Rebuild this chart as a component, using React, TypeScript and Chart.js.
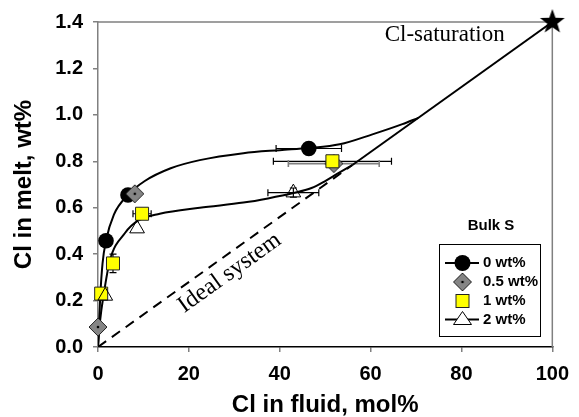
import React, { useEffect, useRef } from 'react';
import { Chart, registerables } from 'chart.js';

Chart.register(...registerables);

const SANS = '"Liberation Sans", Arial, Helvetica, sans-serif';
const SERIF = '"Liberation Serif", "Times New Roman", serif';

// Axis ranges and tick steps
const xRange = [0, 100];
const yRange = [0, 1.4];
const xStep = 20;
const yStep = 0.2;

// Fitted trend through the S-free runs
const fitS0X = [0, 0.5, 1.0, 1.76, 3.5, 6.6, 10.3, 16, 22.4, 32, 40, 46.4, 53.2, 60.4, 67, 70.5];
const fitS0Y = [0, 0.22, 0.36, 0.458, 0.57, 0.655, 0.715, 0.77, 0.805, 0.835, 0.848, 0.857, 0.873, 0.916, 0.96, 0.987];

// Fitted trend through the S-bearing runs
const fitSX = [0, 0.5, 1.2, 2.6, 5.9, 8.8, 13.6, 22.4, 32, 37.4, 43, 47, 50, 53, 56];
const fitSY = [0, 0.12, 0.22, 0.372, 0.49, 0.544, 0.574, 0.6, 0.622, 0.64, 0.663, 0.685, 0.715, 0.75, 0.784];

// Ideal-system line from the origin to Cl saturation (dashed part, then solid)
const idealX = [0, 56, 100];
const idealY = [0, 0.784, 1.4];

// Runs with 0 wt% bulk S
const s0X = [1.76, 6.6, 46.4];
const s0Y = [0.458, 0.655, 0.855];
const s0ErrX = [0, 0, 7.2];
const s0ErrY = [0, 0, 0];

// Runs with 0.5 wt% bulk S
const s05X = [0, 8.1, 51.9];
const s05Y = [0.086, 0.66, 0.79];
const s05ErrX = [0, 0, 10];
const s05ErrY = [0, 0, 0];

// Runs with 1 wt% bulk S
const s1X = [0.7, 3.3, 9.7, 51.6];
const s1Y = [0.23, 0.36, 0.574, 0.8];
const s1ErrX = [0, 0, 2.0, 13];
const s1ErrY = [0, 0.04, 0.015, 0.02];

// Runs with 2 wt% bulk S
const s2X = [1.6, 8.6, 43];
const s2Y = [0.22, 0.51, 0.665];
const s2ErrX = [0, 0, 5.6];
const s2ErrY = [0, 0, 0.02];

// Cl saturation point
const saturationX = [100];
const saturationY = [1.4];

const legendTitle = 'Bulk S';
const seriesLabels = ['0 wt%', '0.5 wt%', '1 wt%', '2 wt%'];
const xTitle = 'Cl in fluid, mol%';
const yTitle = 'Cl in melt, wt%';
const saturationText = 'Cl-saturation';
const idealText = 'Ideal system';

const pts = (xs: number[], ys: number[]) => xs.map((x, i) => ({ x, y: ys[i] }));

function makeDiamond(r: number): HTMLCanvasElement {
  const c = document.createElement('canvas');
  const s = Math.ceil(2 * r + 2);
  c.width = s;
  c.height = s;
  const g = c.getContext('2d')!;
  g.translate(s / 2, s / 2);
  g.beginPath();
  g.moveTo(0, -r);
  g.lineTo(r, 0);
  g.lineTo(0, r);
  g.lineTo(-r, 0);
  g.closePath();
  g.fillStyle = '#858585';
  g.fill();
  g.strokeStyle = '#222';
  g.lineWidth = 1;
  g.stroke();
  g.beginPath();
  g.arc(0, 0, 1.3, 0, Math.PI * 2);
  g.fillStyle = '#000';
  g.fill();
  return c;
}

function makeStar(outer: number, inner: number): HTMLCanvasElement {
  const c = document.createElement('canvas');
  const s = Math.ceil(2 * outer + 2);
  c.width = s;
  c.height = s;
  const g = c.getContext('2d')!;
  g.translate(s / 2, s / 2);
  g.beginPath();
  for (let i = 0; i < 10; i++) {
    const rad = i % 2 === 0 ? outer : inner;
    const a = -Math.PI / 2 + (i * Math.PI) / 5;
    const px = Math.cos(a) * rad;
    const py = Math.sin(a) * rad;
    if (i === 0) g.moveTo(px, py);
    else g.lineTo(px, py);
  }
  g.closePath();
  g.fillStyle = '#000';
  g.fill();
  return c;
}

const errorBarPlugin = {
  id: 'errorBars',
  beforeDatasetsDraw(chart: any) {
    const { ctx } = chart;
    const xs = chart.scales.x;
    const ys = chart.scales.y;
    const cap = 3.5;
    chart.data.datasets.forEach((ds: any) => {
      if (!ds.errX) return;
      ctx.save();
      ctx.strokeStyle = ds.errColor || '#000';
      ctx.lineWidth = ds.errWidth || 1.2;
      ds.data.forEach((p: any, i: number) => {
        const px = xs.getPixelForValue(p.x);
        const py = ys.getPixelForValue(p.y);
        const ex = ds.errX[i];
        const ey = ds.errY[i];
        ctx.beginPath();
        if (ex > 0) {
          const l = xs.getPixelForValue(p.x - ex);
          const r = xs.getPixelForValue(p.x + ex);
          ctx.moveTo(l, py);
          ctx.lineTo(r, py);
          ctx.moveTo(l, py - cap);
          ctx.lineTo(l, py + cap);
          ctx.moveTo(r, py - cap);
          ctx.lineTo(r, py + cap);
        }
        if (ey > 0) {
          const t = ys.getPixelForValue(p.y + ey);
          const b = ys.getPixelForValue(p.y - ey);
          ctx.moveTo(px, t);
          ctx.lineTo(px, b);
          ctx.moveTo(px - cap, t);
          ctx.lineTo(px + cap, t);
          ctx.moveTo(px - cap, b);
          ctx.lineTo(px + cap, b);
        }
        ctx.stroke();
      });
      ctx.restore();
    });
  },
};

// Gray frame on the top and right sides of the plot area
const framePlugin = {
  id: 'frame',
  beforeDatasetsDraw(chart: any) {
    const { ctx, chartArea: a } = chart;
    ctx.save();
    ctx.strokeStyle = '#808080';
    ctx.lineWidth = 1.5;
    ctx.beginPath();
    ctx.moveTo(a.left, a.top);
    ctx.lineTo(a.right, a.top);
    ctx.lineTo(a.right, a.bottom);
    ctx.stroke();
    ctx.restore();
  },
};

const textPlugin = {
  id: 'annotations',
  afterDatasetsDraw(chart: any) {
    const { ctx } = chart;
    const xs = chart.scales.x;
    const ys = chart.scales.y;
    ctx.save();
    ctx.fillStyle = '#000';
    ctx.font = `23px ${SERIF}`;
    ctx.textAlign = 'left';
    ctx.textBaseline = 'alphabetic';
    ctx.fillText(saturationText, xs.getPixelForValue(63.1), ys.getPixelForValue(1.318));

    const angle = Math.atan2(
      ys.getPixelForValue(1.4) - ys.getPixelForValue(0),
      xs.getPixelForValue(100) - xs.getPixelForValue(0)
    );
    ctx.translate(xs.getPixelForValue(29.8), ys.getPixelForValue(0.297));
    ctx.rotate(angle);
    ctx.font = `24px ${SERIF}`;
    ctx.textAlign = 'center';
    ctx.fillText(idealText, 0, 0);
    ctx.restore();
  },
};

const legendPlugin = {
  id: 'bulkLegend',
  afterDraw(chart: any) {
    const { ctx } = chart;
    const diamond = chart.options.plugins.bulkLegend.diamond;
    const box = { left: 439.5, top: 244.5, width: 101, height: 92 };
    const symX = 462.5;
    const textX = 483;
    const rowY = [263, 282, 301, 319.5];
    ctx.save();
    ctx.fillStyle = '#fff';
    ctx.fillRect(box.left, box.top, box.width, box.height);
    ctx.strokeStyle = '#000';
    ctx.lineWidth = 1;
    ctx.strokeRect(box.left, box.top, box.width, box.height);

    ctx.fillStyle = '#000';
    ctx.font = `bold 15px ${SANS}`;
    ctx.textAlign = 'center';
    ctx.textBaseline = 'middle';
    ctx.fillText(legendTitle, 491, 226);

    // 0 wt%: line with filled circle
    ctx.lineWidth = 2;
    ctx.beginPath();
    ctx.moveTo(445, rowY[0]);
    ctx.lineTo(479, rowY[0]);
    ctx.stroke();
    ctx.beginPath();
    ctx.arc(symX, rowY[0], 8, 0, Math.PI * 2);
    ctx.fill();

    // 0.5 wt%: diamond
    ctx.drawImage(diamond, symX - diamond.width / 2, rowY[1] - diamond.height / 2);

    // 1 wt%: yellow square
    ctx.fillStyle = '#ffff00';
    ctx.fillRect(symX - 6.5, rowY[2] - 6.5, 13, 13);
    ctx.lineWidth = 1;
    ctx.strokeStyle = '#222';
    ctx.strokeRect(symX - 6.5, rowY[2] - 6.5, 13, 13);

    // 2 wt%: line with open triangle
    ctx.strokeStyle = '#000';
    ctx.lineWidth = 2;
    ctx.beginPath();
    ctx.moveTo(445, rowY[3]);
    ctx.lineTo(479, rowY[3]);
    ctx.stroke();
    ctx.beginPath();
    ctx.moveTo(symX, rowY[3] - 8);
    ctx.lineTo(symX + 9, rowY[3] + 5);
    ctx.lineTo(symX - 9, rowY[3] + 5);
    ctx.closePath();
    ctx.fillStyle = '#fff';
    ctx.fill();
    ctx.lineWidth = 1;
    ctx.stroke();

    ctx.fillStyle = '#000';
    ctx.font = `bold 15px ${SANS}`;
    ctx.textAlign = 'left';
    seriesLabels.forEach((t, i) => ctx.fillText(t, textX, rowY[i]));
    ctx.restore();
  },
};

export default function App() {
  const ref = useRef<HTMLCanvasElement>(null);

  useEffect(() => {
    document.body.style.margin = '0';
    const canvas = ref.current!;
    const diamond = makeDiamond(9);
    const star = makeStar(13, 5.3);
    const tickFont = { family: SANS, size: 20, weight: 'bold' as const };
    const titleFont = { family: SANS, size: 24, weight: 'bold' as const, lineHeight: 1 };

    const curve = (xs: number[], ys: number[], order: number) => ({
      type: 'line' as const,
      data: pts(xs, ys),
      showLine: true,
      pointRadius: 0,
      borderColor: '#000',
      borderWidth: 2,
      cubicInterpolationMode: 'monotone' as const,
      fill: false,
      order,
    });

    const chart = new Chart(canvas, {
      type: 'line',
      data: {
        datasets: [
          {
            label: saturationText,
            data: pts(saturationX, saturationY),
            showLine: false,
            pointStyle: star,
            pointRadius: 13,
            clip: false,
            order: 0,
          } as any,
          {
            label: seriesLabels[3],
            data: pts(s2X, s2Y),
            showLine: false,
            pointStyle: 'triangle',
            pointRadius: 8.5,
            pointBackgroundColor: 'rgba(255,255,255,0)',
            pointBorderColor: '#000',
            pointBorderWidth: 1,
            errX: s2ErrX,
            errY: s2ErrY,
            clip: false,
            order: 1,
          },
          {
            label: seriesLabels[2],
            data: pts(s1X, s1Y),
            showLine: false,
            pointStyle: 'rect',
            pointRadius: 9.2,
            pointBackgroundColor: '#ffff00',
            pointBorderColor: '#222',
            pointBorderWidth: 1,
            errX: s1ErrX,
            errY: s1ErrY,
            clip: false,
            order: 2,
          },
          {
            label: seriesLabels[1],
            data: pts(s05X, s05Y),
            showLine: false,
            pointStyle: diamond,
            pointRadius: 9,
            errX: s05ErrX,
            errY: s05ErrY,
            errColor: '#808080',
            errWidth: 1.6,
            clip: false,
            order: 3,
          },
          {
            label: seriesLabels[0],
            data: pts(s0X, s0Y),
            showLine: false,
            pointStyle: 'circle',
            pointRadius: 7.8,
            pointBackgroundColor: '#000',
            pointBorderColor: '#000',
            pointBorderWidth: 0,
            errX: s0ErrX,
            errY: s0ErrY,
            clip: false,
            order: 4,
          },
          curve(fitS0X, fitS0Y, 5),
          curve(fitSX, fitSY, 6),
          {
            data: pts(idealX, idealY),
            showLine: true,
            pointRadius: 0,
            borderColor: '#000',
            borderWidth: 2,
            tension: 0,
            segment: {
              borderDash: (c: any) => (c.p0DataIndex === 0 ? [10, 7] : []),
            },
            order: 7,
          },
        ] as any,
      },
      options: {
        animation: false,
        responsive: false,
        devicePixelRatio: 1,
        events: [],
        layout: { padding: { left: 0, right: 26, top: 20, bottom: 0 } },
        plugins: {
          legend: { display: false },
          tooltip: { enabled: false },
          bulkLegend: { diamond },
        } as any,
        scales: {
          x: {
            type: 'linear',
            min: xRange[0],
            max: xRange[1],
            ticks: { stepSize: xStep, font: tickFont, color: '#000', padding: 10, maxRotation: 0 },
            grid: { drawOnChartArea: false, tickLength: 5, color: '#808080', lineWidth: 1.5 },
            border: { color: '#000', width: 1.5 },
            title: { display: true, text: xTitle, font: titleFont, color: '#000', padding: 0 },
            afterFit: (s: any) => {
              s.height = 70;
            },
          },
          y: {
            type: 'linear',
            min: yRange[0],
            max: yRange[1],
            ticks: {
              stepSize: yStep,
              font: tickFont,
              color: '#000',
              padding: 10,
              callback: (v: any) => Number(v).toFixed(1),
            },
            grid: { drawOnChartArea: false, tickLength: 5, color: '#808080', lineWidth: 1.5 },
            border: { color: '#808080', width: 1.5 },
            title: { display: true, text: yTitle, font: titleFont, color: '#000', padding: { top: 12, bottom: 0 } },
            afterFit: (s: any) => {
              s.width = 98;
            },
          },
        },
      },
      plugins: [framePlugin, errorBarPlugin, textPlugin, legendPlugin],
    });
    return () => chart.destroy();
  }, []);

  return (
    <div style={{ width: 579, height: 417, position: 'relative', background: '#fff' }}>
      <canvas ref={ref} width={579} height={417} style={{ display: 'block', width: 579, height: 417 }} />
    </div>
  );
}
